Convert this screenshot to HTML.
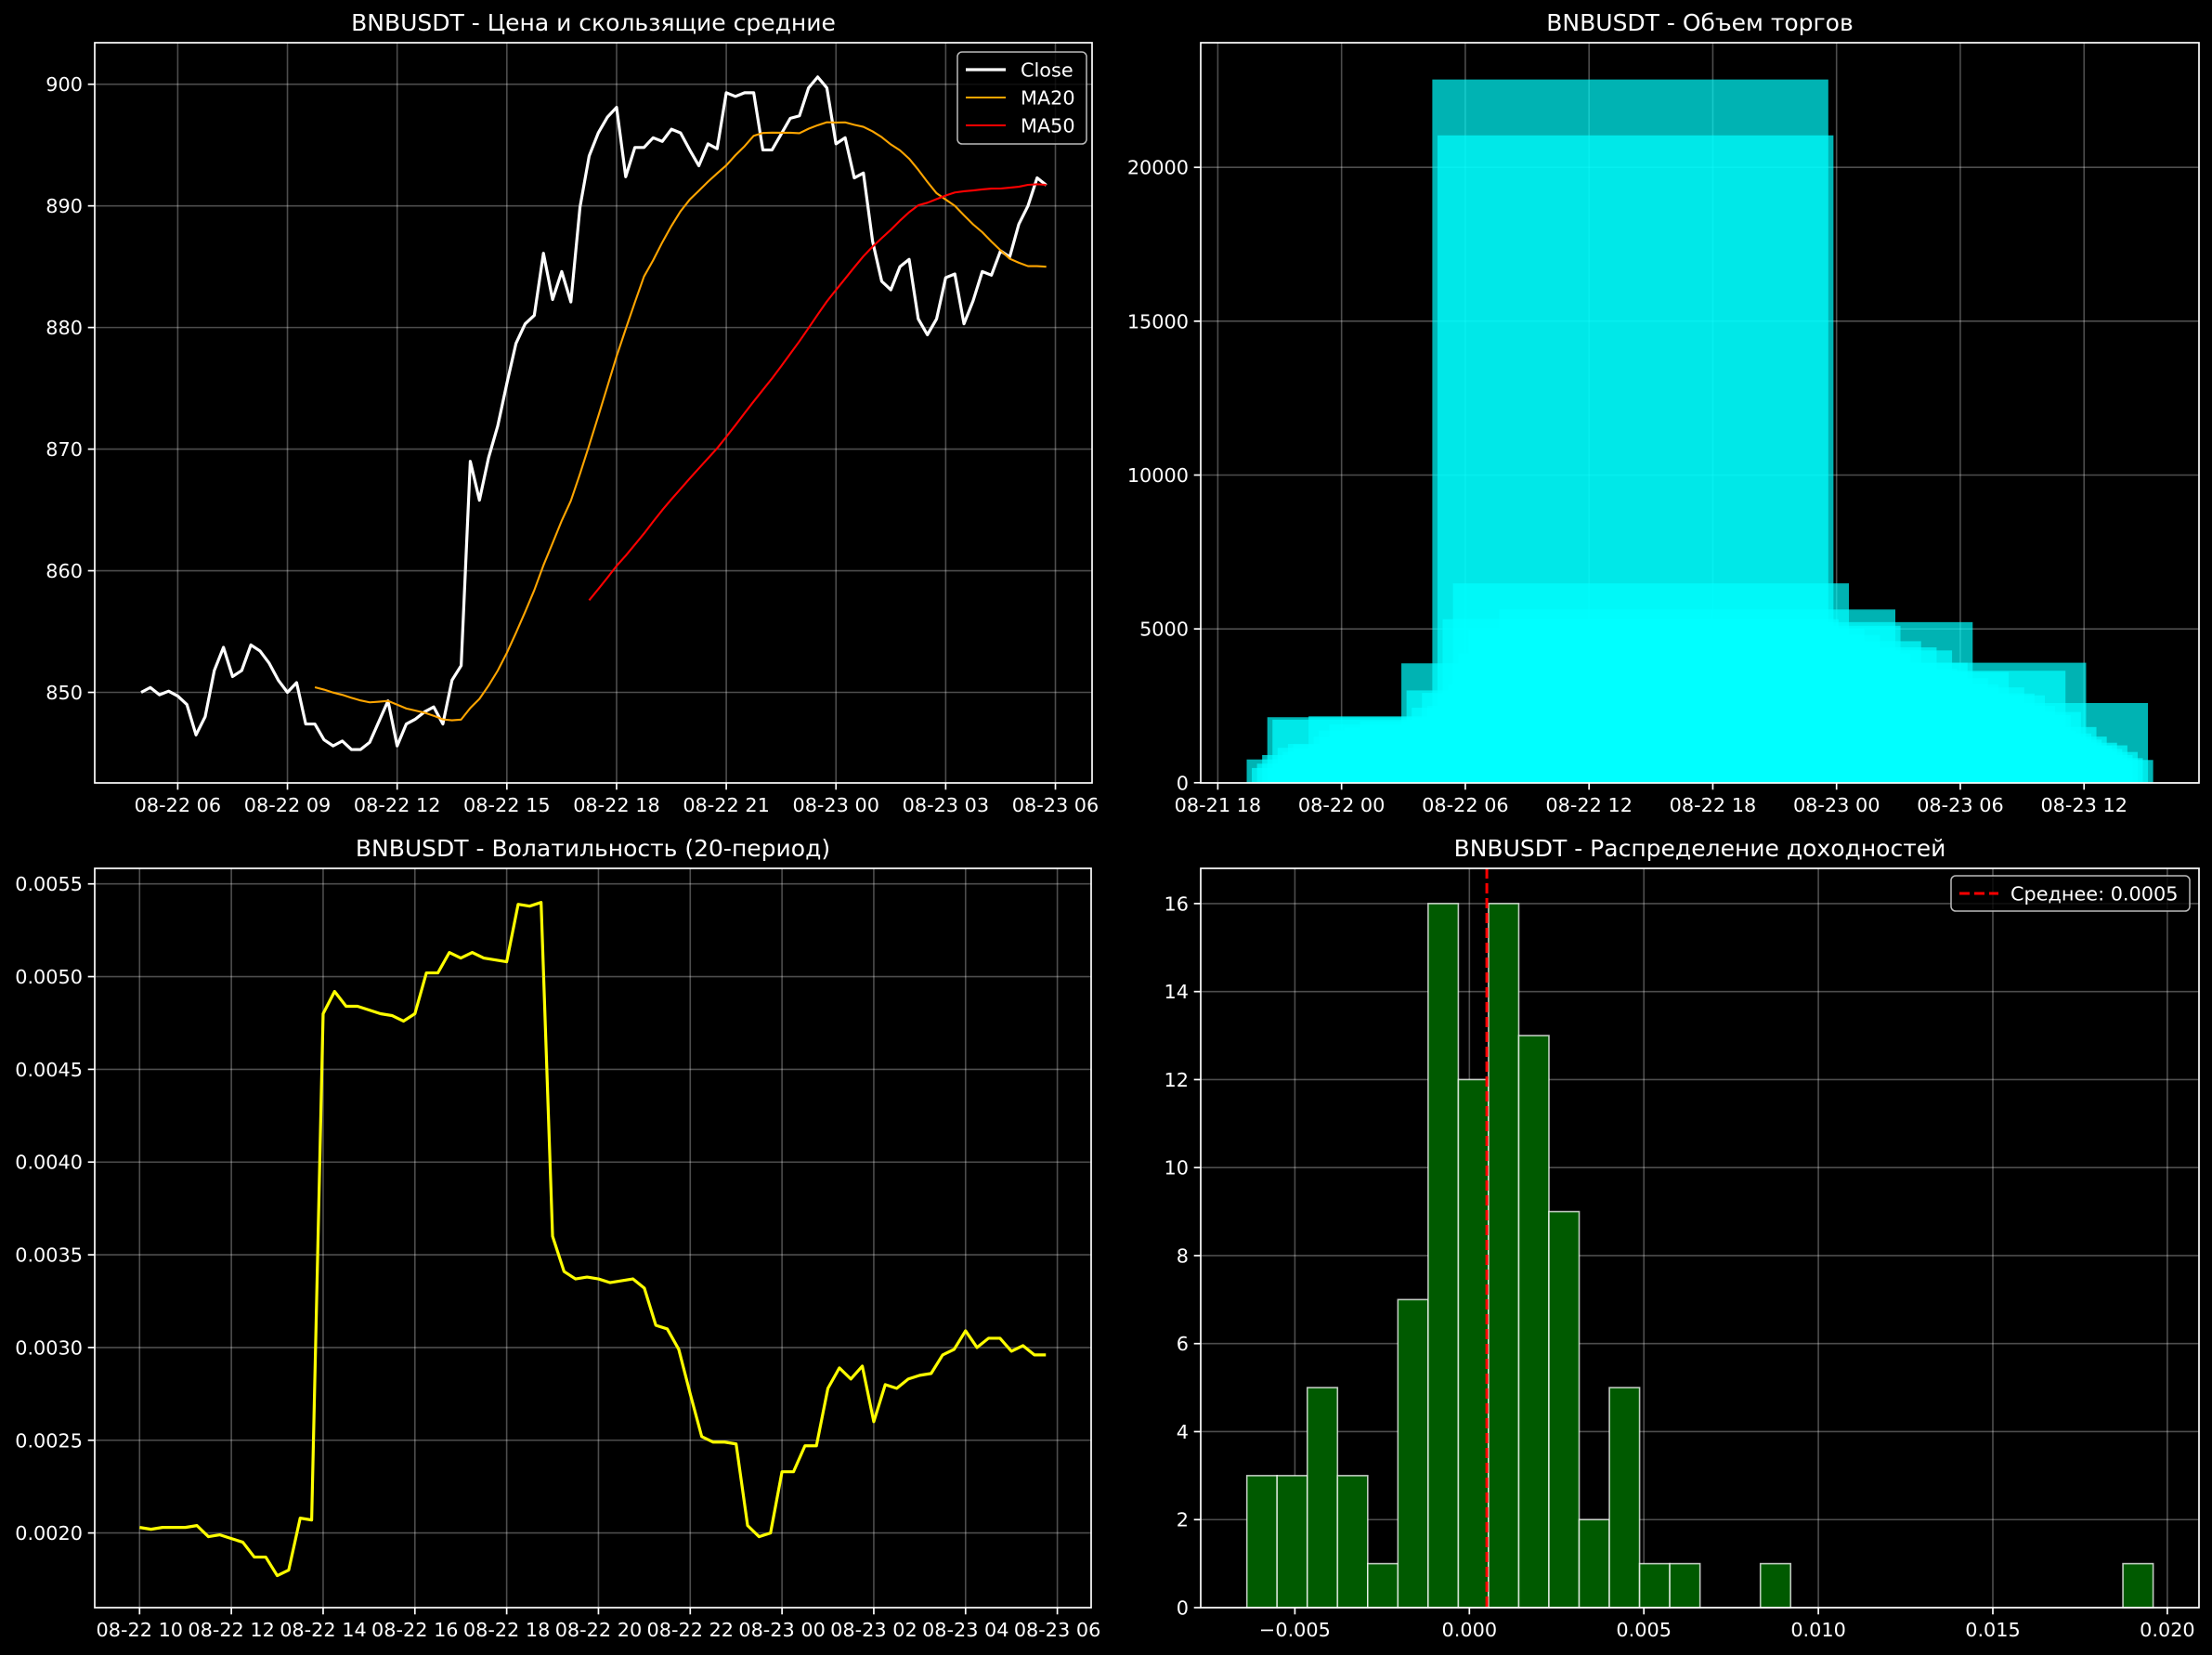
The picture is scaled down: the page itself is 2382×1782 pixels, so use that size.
<!DOCTYPE html>
<html><head><meta charset="utf-8">
<style>
html,body{margin:0;padding:0;background:#000;}
svg{display:block;}
text{font-family:"DejaVu Sans","Liberation Sans",sans-serif;fill:#fff;}
</style></head>
<body>
<svg id="fig" xmlns="http://www.w3.org/2000/svg" width="2382" height="1782" viewBox="0 0 2382 1782">
<rect x="0" y="0" width="2382" height="1782" fill="#000"/>
</svg>
<script>
// ---------- DATA ----------
const closePrices = [850.0,850.4,849.8,850.1,849.7,849.0,846.5,848.0,851.8,853.7,
851.3,851.8,853.9,853.4,852.4,851.0,850.0,850.8,847.4,847.4,
846.1,845.6,846.0,845.3,845.3,845.9,847.6,849.3,845.6,847.4,
847.8,848.4,848.8,847.4,851.0,852.2,869.0,865.8,869.3,871.9,
875.4,878.7,880.3,881.0,886.1,882.3,884.6,882.1,889.9,894.1,
896.0,897.3,898.1,892.4,894.8,894.8,895.6,895.3,896.3,896.0,
894.6,893.3,895.1,894.7,899.3,899.0,899.3,899.3,894.6,894.6,
895.9,897.2,897.4,899.7,900.6,899.7,895.1,895.6,892.3,892.7,
887.1,883.8,883.1,885.0,885.6,880.7,879.4,880.7,884.1,884.4,
880.3,882.2,884.6,884.3,886.3,885.8,888.5,890.0,892.3,891.7];
const startHour = 5;        // first candle: 08-22 05:00
const stepHours = 0.25;     // 15-minute candles
const volumes = [757,480,620,900,2130,2050,1135,1000,1260,1250,
900,1100,2160,1500,1700,1200,1900,1400,1000,1800,
1300,1600,2000,1100,1500,1900,1200,1700,1400,1600,
3880,3000,2440,1800,2920,2500,22855,21040,5315,3200,
6480,4200,3600,5000,4500,3900,4800,3300,4100,5630,
5100,3500,4200,3000,4600,3800,2900,4400,3600,3100,
4300,3700,2800,3900,5220,3000,2600,3400,2500,3200,
2300,3600,2700,2200,3100,2400,2900,2100,2840,2000,
2500,1900,3640,2200,1700,2300,3900,1600,1810,1400,
1500,1200,1300,1100,1215,900,1000,800,2590,740];
const volatility = [0.00203,0.00202,0.00203,0.00203,0.00203,0.00204,0.00198,0.00199,0.00197,0.00195,
0.00187,0.00187,0.00177,0.00180,0.00208,0.00207,0.00480,0.00492,0.00484,0.00484,
0.00482,0.00480,0.00479,0.00476,0.00480,0.00502,0.00502,0.00513,0.00510,0.00513,
0.00510,0.00509,0.00508,0.00539,0.00538,0.00540,0.00360,0.00341,0.00337,0.00338,
0.00337,0.00335,0.00336,0.00337,0.00332,0.00312,0.00310,0.00299,0.00275,0.00252,
0.00249,0.00249,0.00248,0.00204,0.00198,0.00200,0.00233,0.00233,0.00247,0.00247,
0.00278,0.00289,0.00283,0.00290,0.00260,0.00280,0.00278,0.00283,0.00285,0.00286,
0.00296,0.00299,0.00309,0.00300,0.00305,0.00305,0.00298,0.00301,0.00296,0.00296];
const volStartHour = 10;
const histCounts = [3,3,5,3,1,7,16,12,16,13,9,2,5,1,1,0,0,1,0,0,0,0,0,0,0,0,0,0,0,1];
const histMin = -0.006376;
const histMax = 0.019593;
const meanReturn = 0.0005;
const priceTicks = [850,860,870,880,890,900];
const priceTickHours = [6,9,12,15,18,21,24,27,30];
const priceTickLabels = ["08-22 06","08-22 09","08-22 12","08-22 15","08-22 18","08-22 21","08-23 00","08-23 03","08-23 06"];
const volTicks = [0,5000,10000,15000,20000];
const volTickHours = [-6,0,6,12,18,24,30,36];
const volTickLabels = ["08-21 18","08-22 00","08-22 06","08-22 12","08-22 18","08-23 00","08-23 06","08-23 12"];
const volaTicks = [0.0020,0.0025,0.0030,0.0035,0.0040,0.0045,0.0050,0.0055];
const volaTickHours = [10,12,14,16,18,20,22,24,26,28,30];
const volaTickLabels = ["08-22 10","08-22 12","08-22 14","08-22 16","08-22 18","08-22 20","08-22 22","08-23 00","08-23 02","08-23 04","08-23 06"];
const histYTicks = [0,2,4,6,8,10,12,14,16];
const histXTicks = [-0.005,0,0.005,0.010,0.015,0.020];
const histXTickLabels = ["\u22120.005","0.000","0.005","0.010","0.015","0.020"];

// ---------- HELPERS ----------
const NS = "http://www.w3.org/2000/svg";
const fig = document.getElementById('fig');
function mk(tag, attrs, parent){
  const e = document.createElementNS(NS, tag);
  for (const k in attrs) e.setAttribute(k, attrs[k]);
  (parent||fig).appendChild(e);
  return e;
}
function txt(s, attrs, parent){ const t = mk('text', attrs, parent); t.textContent = s; return t; }
function rolling(arr, n){ const out=[]; for(let i=0;i<arr.length;i++){ if(i<n-1){out.push(null);continue;} let s=0; for(let j=i-n+1;j<=i;j++) s+=arr[j]; out.push(s/n);} return out; }
const GRID = "rgba(255,255,255,0.3)";

function drawAxesFrame(g, box, xTicksPx, xLabels, yTicksPx, yLabels, title){
  // grid
  xTicksPx.forEach(x=>{ const l=mk('line',{x1:x,x2:x,y1:box.t,y2:box.b,stroke:GRID,'stroke-width':1.6},g);
      });
  yTicksPx.forEach(y=>{ const l=mk('line',{x1:box.l,x2:box.r,y1:y,y2:y,stroke:GRID,'stroke-width':1.6},g);
      });
}
function drawSpinesTicks(g, box, xTicksPx, xLabels, yTicksPx, yLabels, title){
  const sp = mk('rect',{x:box.l,y:box.t,width:box.r-box.l,height:box.b-box.t,fill:'none',stroke:'#fff','stroke-width':1.7},g);
   
  xTicksPx.forEach((x,i)=>{
    mk('line',{x1:x,x2:x,y1:box.b,y2:box.b+7.3,stroke:'#fff','stroke-width':1.7},g);
    const t = txt(xLabels[i],{x:x,y:box.b+31,'font-size':20.8,'text-anchor':'middle'},g);
     
  });
  yTicksPx.forEach((y,i)=>{
    mk('line',{x1:box.l-7.3,x2:box.l,y1:y,y2:y,stroke:'#fff','stroke-width':1.7},g);
    const t = txt(yLabels[i],{x:box.l-13,y:y+7.5,'font-size':20.8,'text-anchor':'end'},g);
     
  });
  const tt = txt(title,{x:(box.l+box.r)/2,y:box.t-13,'font-size':25,'text-anchor':'middle'},g);
   
}
function polyline(g, pts, color, w, name){
  const p = mk('polyline',{points:pts.map(p=>p[0].toFixed(2)+','+p[1].toFixed(2)).join(' '),fill:'none',stroke:color,'stroke-width':w,'stroke-linejoin':'round','stroke-linecap':'butt'},g);
  
  
  return p;
}

// ---------- PANEL 1: PRICE ----------
(function(){
  const box={l:102,r:1176,t:46,b:843};
  const g = mk('g',{});
  
  
  const X = h => 191.4 + (h-6)*39.38;
  const Y = v => 745.5 - (v-850)*13.096;
  const xt = priceTickHours.map(X), yt = priceTicks.map(Y);
  drawAxesFrame(g,box,xt,priceTickLabels,yt,priceTicks.map(String));
  const hourOf = i => startHour + i*stepHours;
  const closePts = closePrices.map((v,i)=>[X(hourOf(i)),Y(v)]);
  const ma20 = rolling(closePrices,20), ma50 = rolling(closePrices,50);
  polyline(g, closePts, '#fff', 3.2, 'close-line');
  polyline(g, ma20.map((v,i)=>v===null?null:[X(hourOf(i)),Y(v)]).filter(Boolean), '#ffa500', 2.1, 'ma20-line');
  polyline(g, ma50.map((v,i)=>v===null?null:[X(hourOf(i)),Y(v)]).filter(Boolean), '#ff0000', 2.1, 'ma50-line');
  drawSpinesTicks(g,box,xt,priceTickLabels,yt,priceTicks.map(String),'BNBUSDT - Цена и скользящие средние');
  // legend
  const lg = mk('g',{},g);
  
  
  mk('rect',{x:1031,y:56,width:139,height:99,rx:5,fill:'rgba(0,0,0,0.8)',stroke:'#bbb','stroke-width':1.5},lg);
  const items=[['Close','#fff',3.2],['MA20','#ffa500',2.1],['MA50','#ff0000',2.1]];
  items.forEach((it,i)=>{
    const y = 75 + i*30;
    mk('line',{x1:1040,x2:1083,y1:y,y2:y,stroke:it[1],'stroke-width':it[2]},lg);
    const t = txt(it[0],{x:1099,y:y+7.5,'font-size':20.8},lg);
    
    
  });
})();

// ---------- PANEL 2: VOLUME ----------
(function(){
  const box={l:1293,r:2368,t:46,b:843};
  const g = mk('g',{});
  
  
  const X = h => 1311.4 + (h+6)*22.21;
  const Y = v => 842.8 - v*0.03313;
  const xt = volTickHours.map(X), yt = volTicks.map(Y);
  drawAxesFrame(g,box,xt,volTickLabels,yt,volTicks.map(String));
  const barW = 0.8*24; // hours
  volumes.forEach((v,i)=>{
    const h = startHour + i*stepHours;
    const x0 = X(h-barW/2), x1 = X(h+barW/2);
    const r = mk('rect',{x:x0,y:Y(v),width:x1-x0,height:Y(0)-Y(v),fill:'#00ffff','fill-opacity':0.7},g);
    
    
  });
  drawSpinesTicks(g,box,xt,volTickLabels,yt,volTicks.map(String),'BNBUSDT - Объем торгов');
})();

// ---------- PANEL 3: VOLATILITY ----------
(function(){
  const box={l:102,r:1175,t:935,b:1731};
  const g = mk('g',{});
  
  
  const X = h => 150.3 + (h-10)*49.415;
  const Y = v => 1650.6 - (v-0.0020)*199680;
  const xt = volaTickHours.map(X), yt = volaTicks.map(Y);
  const yl = volaTicks.map(v=>v.toFixed(4));
  drawAxesFrame(g,box,xt,volaTickLabels,yt,yl);
  polyline(g, volatility.map((v,i)=>[X(volStartHour+i*stepHours),Y(v)]), '#ffff00', 3.2, 'volatility-line');
  drawSpinesTicks(g,box,xt,volaTickLabels,yt,yl,'BNBUSDT - Волатильность (20-период)');
})();

// ---------- PANEL 4: RETURNS HISTOGRAM ----------
(function(){
  const box={l:1293,r:2368,t:935,b:1731};
  const g = mk('g',{});
  
  
  const X = v => 1582.3 + v*37580;
  const Y = c => 1731 - c*47.38;
  const xt = histXTicks.map(X), yt = histYTicks.map(Y);
  drawAxesFrame(g,box,xt,histXTickLabels,yt,histYTicks.map(String));
  const bw = (histMax-histMin)/histCounts.length;
  histCounts.forEach((c,i)=>{
    if(c<=0) return;
    const x0 = X(histMin+i*bw), x1 = X(histMin+(i+1)*bw);
    const r = mk('rect',{x:x0,y:Y(c),width:x1-x0,height:Y(0)-Y(c),fill:'rgb(0,90,0)',stroke:'rgba(255,255,255,0.75)','stroke-width':1.6},g);
    
    
  });
  const ml = mk('line',{x1:X(meanReturn),x2:X(meanReturn),y1:box.t,y2:box.b,stroke:'#ff0000','stroke-width':3,'stroke-dasharray':'11,5'},g);
  
  
  drawSpinesTicks(g,box,xt,histXTickLabels,yt,histYTicks.map(String),'BNBUSDT - Распределение доходностей');
  const lg = mk('g',{},g);
  
  
  mk('rect',{x:2101,y:943,width:257,height:38,rx:5,fill:'rgba(0,0,0,0.8)',stroke:'#bbb','stroke-width':1.5},lg);
  mk('line',{x1:2110,x2:2152,y1:962,y2:962,stroke:'#ff0000','stroke-width':3,'stroke-dasharray':'11,5'},lg);
  const t = txt('Среднее: '+meanReturn.toFixed(4),{x:2165,y:969.5,'font-size':20.8},lg);
  
  
})();
</script>
</body></html>
